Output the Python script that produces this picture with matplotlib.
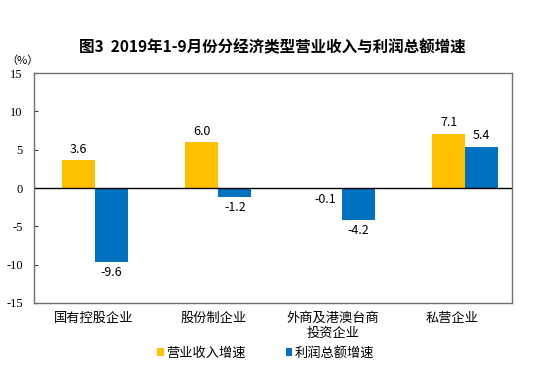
import matplotlib
matplotlib.use("Agg")
import matplotlib.pyplot as plt
import numpy as np

plt.rcParams['font.family'] = ['Noto Sans CJK SC', 'DejaVu Sans']

categories = ["国有控股企业", "股份制企业", "外商及港澳台商\n投资企业", "私营企业"]
revenue = [3.6, 6.0, -0.1, 7.1]
profit = [-9.6, -1.2, -4.2, 5.4]
series_names = ["营业收入增速", "利润总额增速"]
title = "图3  2019年1-9月份分经济类型营业收入与利润总额增速"

fig = plt.figure(figsize=(5.37, 3.67), dpi=100)
ax = fig.add_axes([0.0633, 0.1744, 0.8901, 0.6266])

x = np.arange(len(categories))
w = 0.268
yellow = "#FFC000"
blue = "#0070C0"
b1 = ax.bar(x - w/2, revenue, w, color=yellow, label=series_names[0])
b2 = ax.bar(x + w/2, profit, w, color=blue, label=series_names[1])

for bars, vals in ((b1, revenue), (b2, profit)):
    for b, v in zip(bars, vals):
        cx = b.get_x() + b.get_width()/2
        if v >= 0:
            ax.annotate(f"{v:.1f}", (cx, v), xytext=(0, 3), textcoords="offset points",
                        ha="center", va="bottom", fontsize=9)
        else:
            ax.annotate(f"{v:.1f}", (cx, v), xytext=(0, -3), textcoords="offset points",
                        ha="center", va="top", fontsize=9)

ax.set_xlim(-0.495, 3.38)
ax.set_ylim(-15, 15)
ax.set_yticks(np.arange(-15, 16, 5))
ax.set_yticklabels([str(v) for v in range(-15, 16, 5)], family="Liberation Serif", fontsize=9)
ax.tick_params(axis="y", direction="in", length=3, pad=8, color="#404040")
ax.set_xticks([])
ax.axhline(0, color="black", lw=1)
for s in ax.spines.values():
    s.set_color("#707070")
    s.set_linewidth(1)

for i, c in enumerate(categories):
    ax.text((i + 0.5)/4, -0.04, c, transform=ax.transAxes, ha="center", va="top",
            fontsize=9.5, linespacing=1.2)

fig.text(0.507, 0.872, title, ha="center", va="center", fontsize=11.2, fontweight="bold")
fig.text(0.012, 0.836, "（%）", ha="left", va="center", fontsize=8)

leg = fig.legend(handles=[b1, b2], loc="center", bbox_to_anchor=(0.495, 0.038), ncol=2,
                 frameon=False, fontsize=9.5, handlelength=0.5, handleheight=0.5,
                 handletextpad=0.2, columnspacing=3.0)
fig.savefig("out.png", dpi=100)
